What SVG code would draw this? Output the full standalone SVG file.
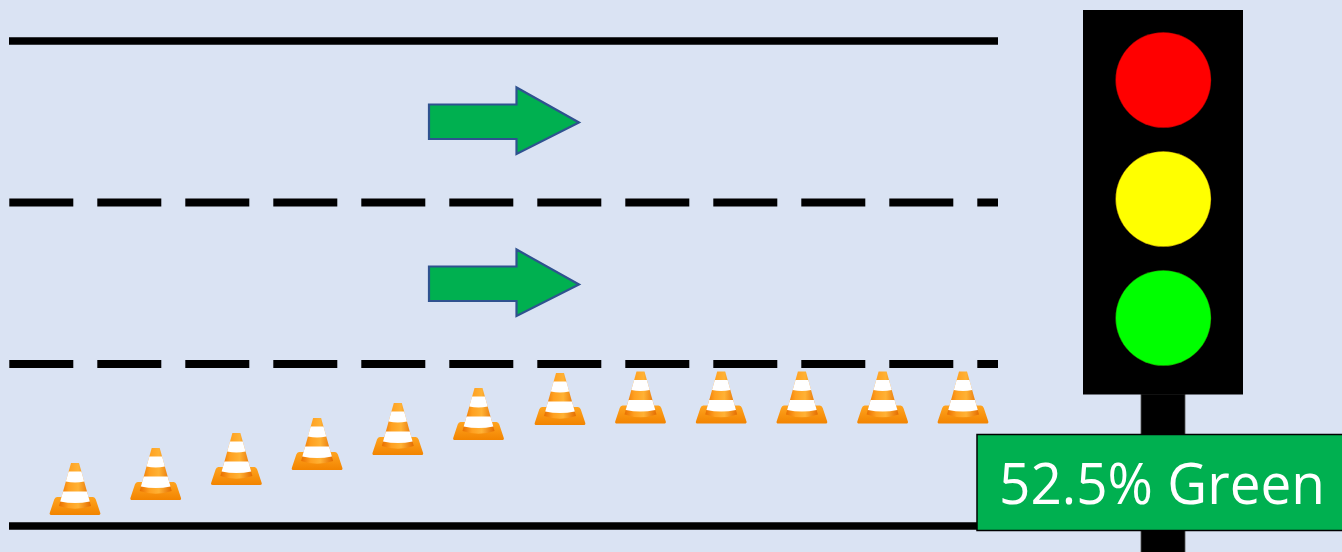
<svg xmlns="http://www.w3.org/2000/svg" width="1342" height="552" viewBox="0 0 1342 552">
  <defs>
    <style>
      .edge { stroke: #000; stroke-width: 7.5; fill: none; }
      .lane { stroke: #000; stroke-width: 8; fill: none; stroke-dasharray: 64 24; }
      .flow { fill: #00B050; stroke: #2F528F; stroke-width: 2.2; stroke-linejoin: miter; }
      .lamp { stroke: #3a0000; stroke-opacity: 0.35; stroke-width: 1; }
      .label-text { font-family: "Open Sans", "Liberation Sans", sans-serif; font-size: 56px; fill: #fff; }
    </style>
    <linearGradient id="coneOrange" x1="0" y1="0" x2="1" y2="0">
      <stop offset="0" stop-color="#E86F00"/>
      <stop offset="0.3" stop-color="#FFA020"/>
      <stop offset="0.6" stop-color="#FFB235"/>
      <stop offset="1" stop-color="#E46C00"/>
    </linearGradient>
    <linearGradient id="baseOrange" x1="0" y1="0" x2="0" y2="1">
      <stop offset="0" stop-color="#FFA41F"/>
      <stop offset="1" stop-color="#F28400"/>
    </linearGradient>
    <!-- traffic cone, origin at top centre, 50 x 52 -->
    <symbol id="cone" overflow="visible">
      <path d="M-18,34 L18,34 Q20,34 20.8,36.5 L25.3,50 Q25.8,52 23.5,52 L-23.5,52 Q-25.8,52 -25.3,50 L-20.8,36.5 Q-20,34 -18,34 Z" fill="url(#baseOrange)"/>
      <path d="M-4,0 L4,0 L16,43 Q0,48.5 -16,43 Z" fill="url(#coneOrange)"/>
      <path d="M-6.4,8.5 L6.4,8.5 L9.2,18.5 Q0,20.5 -9.2,18.5 Z" fill="#fff"/>
      <path d="M-12,28.5 L12,28.5 L14.8,38.5 Q0,41.5 -14.8,38.5 Z" fill="#fff"/>
    </symbol>
  </defs>

  <rect width="1342" height="552" fill="#DAE3F3"/>

  <!-- road markings -->
  <g id="road">
    <line class="edge" x1="9" y1="41" x2="998" y2="41"/>
    <line class="lane" x1="9.3" y1="202.5" x2="998" y2="202.5"/>
    <line class="lane" x1="9.3" y1="364" x2="998" y2="364"/>
    <line class="edge" x1="9" y1="526" x2="985" y2="526"/>
  </g>

  <!-- lane direction arrows -->
  <g id="connectors">
    <path id="arrow-upper" class="flow" d="M429,104.5 L516.5,104.5 L516.5,87.5 L579,122.5 L516.5,154 L516.5,139 L429,139 Z"/>
    <path id="arrow-lower" class="flow" d="M429,266.5 L516.5,266.5 L516.5,249.5 L579,284.5 L516.5,316 L516.5,301 L429,301 Z"/>
  </g>

  <!-- cones closing the lower lane -->
  <g id="cone-1"><use href="#cone" x="75" y="463"/></g>
  <g id="cone-2"><use href="#cone" x="155.7" y="448"/></g>
  <g id="cone-3"><use href="#cone" x="236.4" y="433"/></g>
  <g id="cone-4"><use href="#cone" x="317.1" y="418"/></g>
  <g id="cone-5"><use href="#cone" x="397.8" y="403"/></g>
  <g id="cone-6"><use href="#cone" x="478.5" y="388"/></g>
  <g id="cone-7"><use href="#cone" x="560" y="373"/></g>
  <g id="cone-8"><use href="#cone" x="640.5" y="371.5"/></g>
  <g id="cone-9"><use href="#cone" x="721.2" y="371.5"/></g>
  <g id="cone-10"><use href="#cone" x="801.9" y="371.5"/></g>
  <g id="cone-11"><use href="#cone" x="882.6" y="371.5"/></g>
  <g id="cone-12"><use href="#cone" x="963" y="371.5"/></g>

  <!-- traffic signal -->
  <g id="signal">
    <rect x="1141" y="394" width="44" height="170" fill="#000" stroke="#555" stroke-width="0.8"/>
    <rect x="1083" y="10" width="160" height="384.5" fill="#000"/>
    <circle class="lamp" cx="1163.3" cy="80" r="47.8" fill="#FF0000"/>
    <circle class="lamp" cx="1163.3" cy="199" r="47.8" fill="#FFFF00"/>
    <circle class="lamp" cx="1163.3" cy="318" r="47.8" fill="#00FF00"/>
  </g>

  <!-- green-time label -->
  <g id="green-label">
    <rect x="977" y="434.5" width="370" height="96" fill="#00B050" stroke="#000" stroke-width="1.5"/>
    <text class="label-text" x="999" y="503.5" textLength="326" lengthAdjust="spacingAndGlyphs">52.5% Green</text>
  </g>
</svg>
